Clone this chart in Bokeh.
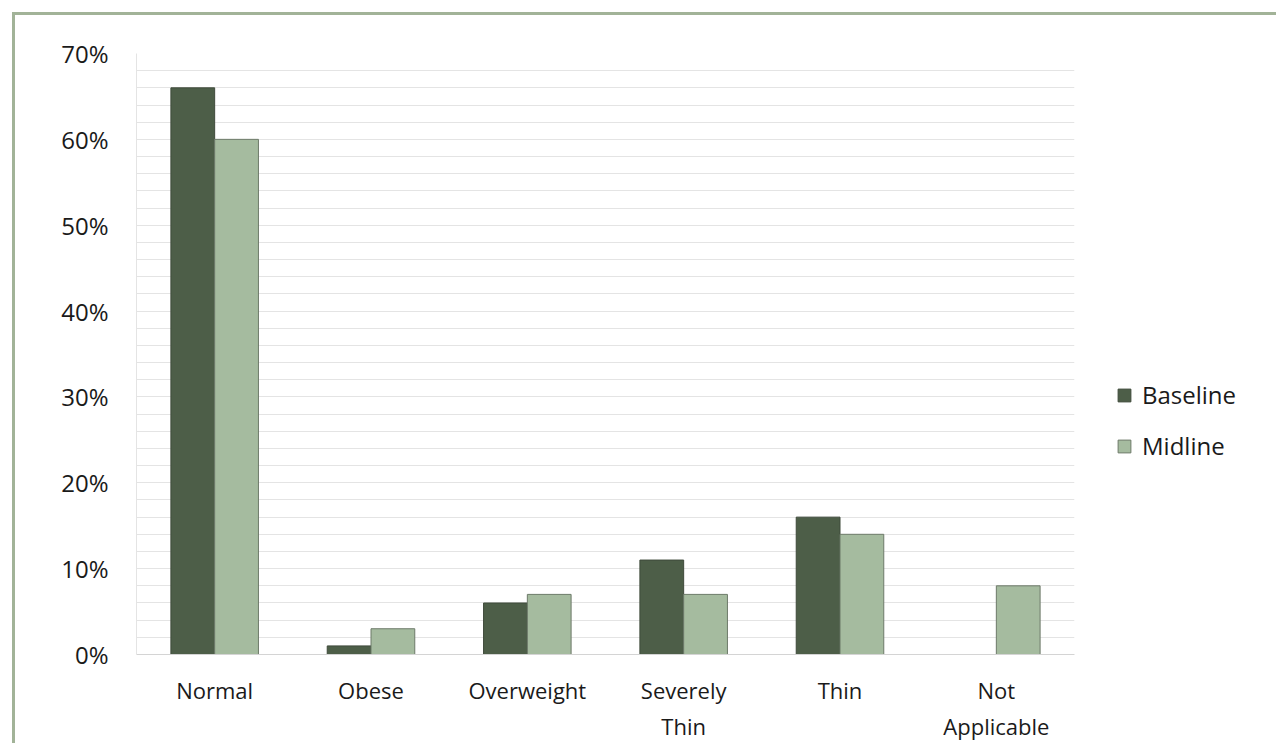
from bokeh.plotting import figure
from bokeh.models import FactorRange, FixedTicker, Legend, LegendItem, NumeralTickFormatter, ColumnDataSource
from bokeh.transform import dodge
from bokeh.embed import file_html
from bokeh.resources import INLINE

categories = ["Normal", "Obese", "Overweight", "Severely\nThin", "Thin", "Not\nApplicable"]
baseline = [0.66, 0.01, 0.06, 0.11, 0.16, 0.0]
midline = [0.60, 0.03, 0.07, 0.07, 0.14, 0.08]
y_ticks = [0.0, 0.1, 0.2, 0.3, 0.4, 0.5, 0.6, 0.7]
grid_ticks = [i / 100 for i in range(0, 71, 2)]

FONT = "Open Sans"
src = ColumnDataSource(dict(cat=categories, baseline=baseline, midline=midline))

OFF = 15
p = figure(frame_width=938, frame_height=601, x_range=FactorRange(*categories), y_range=(0, 0.7),
           output_backend="svg", toolbar_location=None,
           min_border_left=136 - OFF, min_border_right=0, min_border_top=53 - OFF, min_border_bottom=10)
p.margin = (12, 0, 0, 12)
p.styles = {"border-top": "3px solid #a2b398", "border-left": "3px solid #a2b398"}
p.x_range.range_padding = 0
p.outline_line_color = None

r1 = p.vbar(x=dodge("cat", -0.14, range=p.x_range), top="baseline", width=0.28, source=src,
            fill_color="#4d5e48", line_color="#3f4a3b", line_width=1)
r2 = p.vbar(x=dodge("cat", 0.14, range=p.x_range), top="midline", width=0.28, source=src,
            fill_color="#a5bb9f", line_color="#6d7a69", line_width=1)

p.yaxis.ticker = FixedTicker(ticks=y_ticks)
p.yaxis.formatter = NumeralTickFormatter(format="0%")
p.ygrid.ticker = FixedTicker(ticks=grid_ticks)
p.ygrid.grid_line_color = "#e4e4e4"
p.xgrid.grid_line_color = None

for ax in (p.xaxis, p.yaxis):
    ax.major_tick_line_color = None
    ax.minor_tick_line_color = None
    ax.major_label_text_font = FONT
    ax.major_label_text_color = "#1a1a1a"
p.yaxis.major_label_text_font_size = "24px"
p.xaxis.major_label_text_font_size = "22px"
p.xaxis.axis_line_color = "#d4d4d4"
p.yaxis.axis_line_color = "#e4e4e4"
p.yaxis.major_label_standoff = 22
p.xaxis.major_label_standoff = 14
p.xaxis.group_text_font_size = "0px"

legend = Legend(items=[LegendItem(label="Baseline", renderers=[r1]),
                       LegendItem(label="Midline", renderers=[r2])],
                location=(42, 192), orientation="vertical")
legend.label_text_font = FONT
legend.label_text_font_size = "24px"
legend.label_text_color = "#1a1a1a"
legend.glyph_width = 16
legend.glyph_height = 16
legend.label_standoff = 10
legend.spacing = 18
legend.border_line_color = None
legend.background_fill_alpha = 0
legend.margin = 0
p.add_layout(legend, "right")

open("out.html", "w").write(file_html(p, INLINE))
